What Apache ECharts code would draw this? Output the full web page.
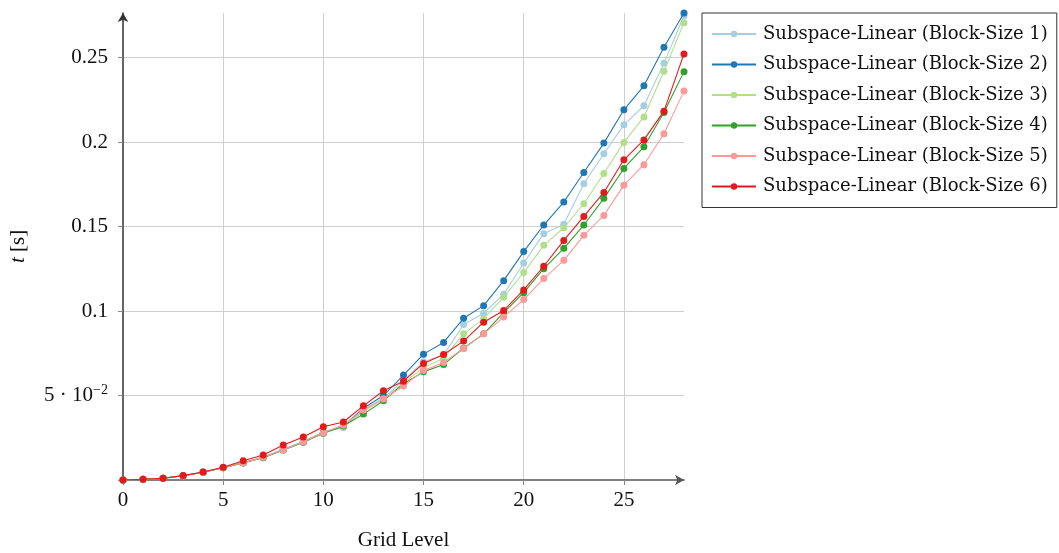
<!DOCTYPE html>
<html><head><meta charset="utf-8">
<script src="https://cdn.jsdelivr.net/npm/echarts@6/dist/echarts.min.js"></script>
<style>html,body{margin:0;padding:0;background:#fff}#c{width:1059px;height:553px}</style>
</head><body><div id="c"></div>
<script>
const levels = [0,1,2,3,4,5,6,7,8,9,10,11,12,13,14,15,16,17,18,19,20,21,22,23,24,25,26,27,28];
const seriesNames = ['Subspace-Linear (Block-Size 1)','Subspace-Linear (Block-Size 2)','Subspace-Linear (Block-Size 3)','Subspace-Linear (Block-Size 4)','Subspace-Linear (Block-Size 5)','Subspace-Linear (Block-Size 6)'];
const bs1 = [0,0.0004,0.001,0.0025,0.0046,0.0073,0.0102,0.0133,0.0178,0.0224,0.0278,0.0311,0.0414,0.0485,0.0590,0.0700,0.0740,0.0920,0.0987,0.1099,0.1284,0.1458,0.1513,0.1754,0.1931,0.2102,0.2215,0.2466,0.2748];
const bs2 = [0,0.0004,0.001,0.0025,0.0046,0.0073,0.0103,0.0135,0.0180,0.0227,0.0282,0.0318,0.0425,0.0500,0.0621,0.0745,0.0814,0.0957,0.1032,0.1180,0.1352,0.1509,0.1645,0.1820,0.1994,0.2191,0.2333,0.2561,0.2764];
const bs3 = [0,0.0004,0.001,0.0025,0.0046,0.0073,0.0102,0.0134,0.0179,0.0226,0.0280,0.0315,0.0405,0.0480,0.0575,0.0665,0.0720,0.0865,0.0955,0.1082,0.1228,0.1389,0.1493,0.1635,0.1814,0.1998,0.2149,0.2419,0.2707];
const bs4 = [0,0.0004,0.001,0.0025,0.0046,0.0073,0.0101,0.0132,0.0177,0.0224,0.0277,0.0320,0.0390,0.0469,0.0570,0.0640,0.0684,0.0780,0.0865,0.0991,0.1109,0.1251,0.1371,0.1509,0.1667,0.1844,0.1972,0.2175,0.2417];
const bs5 = [0,0.0004,0.001,0.0025,0.0046,0.0073,0.0102,0.0134,0.0179,0.0226,0.0280,0.0325,0.0414,0.0479,0.0556,0.0648,0.0696,0.0778,0.0865,0.0965,0.1068,0.1192,0.1300,0.1448,0.1566,0.1745,0.1866,0.2049,0.2303];
const bs6 = [0,0.0004,0.001,0.0026,0.0047,0.0075,0.0114,0.0148,0.0207,0.0254,0.0315,0.0343,0.0439,0.0528,0.0585,0.0690,0.0743,0.0822,0.0934,0.1003,0.1125,0.1265,0.1418,0.1560,0.1702,0.1895,0.2013,0.2183,0.2522];
const colors = ['#a6cee3','#1f78b4','#b2df8a','#33a02c','#fb9a99','#e31a1c'];
const allData = [bs1,bs2,bs3,bs4,bs5,bs6];

const serif = '"Liberation Serif", "DejaVu Serif", serif';
const chart = echarts.init(document.getElementById('c'), null, {renderer:'canvas'});
const Y_MAX = 0.2764;
const option = {
  animation:false,
  backgroundColor:'#fff',
  grid: {left:123, top:13, right:375, bottom:73, containLabel:false, outerBoundsMode:'none'},
  legend: {
    orient:'vertical', left:702, top:13,
    padding:[11, 9, 11, 9],
    borderColor:'#333', borderWidth:1, borderRadius:0,
    itemWidth:44, itemHeight:8, itemGap:10.5,
    textStyle:{fontFamily:'"DejaVu Serif", serif', fontSize:18, color:'#111', lineHeight:20, padding:[0,0,0,2]},
    data: seriesNames
  },
  xAxis: {
    type:'value', min:0, max:28, interval:5,
    name:'Grid Level', nameLocation:'middle', nameGap:50,
    nameTextStyle:{fontFamily:serif, fontSize:21, color:'#111'},
    axisLine:{show:true, onZero:false, lineStyle:{color:'#555', width:1.5}, symbol:['none','arrow'], symbolSize:[8,9]},
    axisTick:{show:true, length:5, lineStyle:{color:'#888'}},
    axisLabel:{fontFamily:serif, fontSize:21, color:'#111', margin:10, showMaxLabel:false},
    splitLine:{show:true, showMinLine:false, showMaxLine:false, lineStyle:{color:'#cfcfcf', width:1}}
  },
  yAxis: {
    type:'value', min:0, max:Y_MAX, interval:0.05,
    name:'{i|t} [s]', nameLocation:'middle', nameGap:94, nameRotate:90,
    nameTextStyle:{fontFamily:serif, fontSize:21, color:'#111', rich:{i:{fontStyle:'italic', fontFamily:serif, fontSize:21, color:'#111'}}},
    axisLine:{show:true, onZero:false, lineStyle:{color:'#333', width:1.5}, symbol:['none','arrow'], symbolSize:[8,9]},
    axisTick:{show:true, length:5, lineStyle:{color:'#888'}},
    axisLabel:{
      fontFamily:serif, fontSize:21, color:'#111', margin:15, showMaxLabel:false,
      formatter: function(v){
        if (Math.abs(v) < 1e-9) return '';
        if (Math.abs(v-0.05) < 1e-9) return '5 · 10{sup|−2}';
        return String(+v.toFixed(2));
      },
      rich:{sup:{fontSize:14, verticalAlign:'top', padding:[0,0,10,0], fontFamily:serif, color:'#111'}}
    },
    splitLine:{show:true, showMinLine:false, showMaxLine:false, lineStyle:{color:'#cfcfcf', width:1}}
  },
  series: allData.map((d,i)=>({
    name: seriesNames[i], type:'line',
    data: levels.map((x,j)=>[x,d[j]]),
    symbol:'circle', symbolSize:7, showSymbol:true,
    lineStyle:{color:colors[i], width:1.1},
    itemStyle:{color:colors[i]},
    z: 2+i
  }))
};
chart.setOption(option);
</script></body></html>
